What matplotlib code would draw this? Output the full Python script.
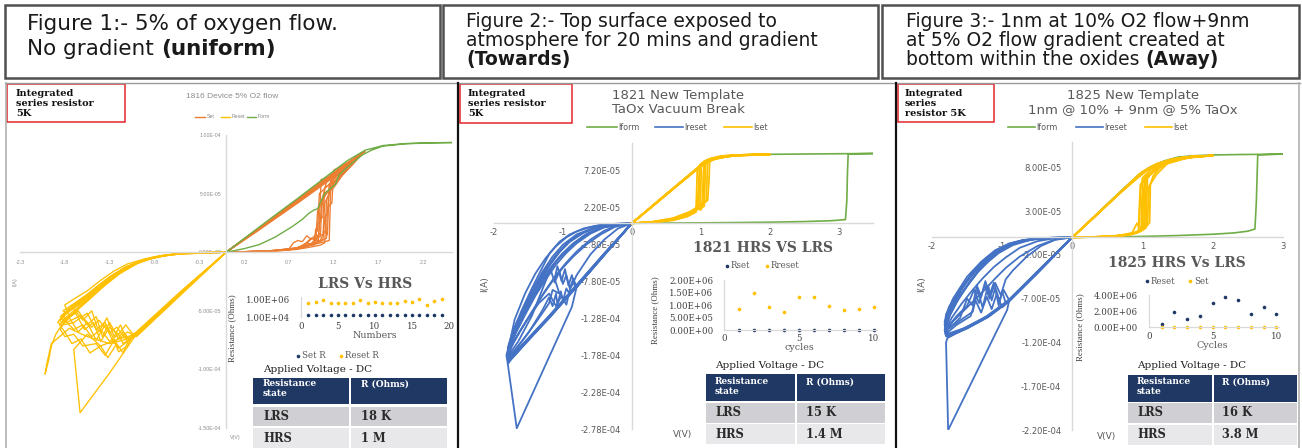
import matplotlib
matplotlib.use("Agg")
import numpy as np
import matplotlib.pyplot as plt
from matplotlib.patches import Rectangle
from matplotlib.ticker import FixedLocator, FuncFormatter

# ---------------------------------------------------------------------------
# I-V sweeps: each sweep is a list of (voltage [V], current [uA]) points
# ---------------------------------------------------------------------------

# Device 1816 (5% O2, uniform)
FORM_1816 = [(0, 0), (0.2, 3), (0.37, 6.5), (0.55, 13), (0.74, 22), (0.85, 28),
             (0.92, 33), (0.98, 36), (1.02, 37), (1.06, 44), (1.1, 50), (1.16, 54),
             (1.22, 58), (1.26, 66), (1.33, 71), (1.42, 77), (1.52, 83), (1.62, 87),
             (1.75, 90.5), (2.0, 92.5), (2.3, 93.3), (2.55, 93.6), (2.3, 93.4),
             (2.0, 92.7), (1.75, 91), (1.55, 87), (1.35, 78), (1.1, 63.5), (0.8, 46),
             (0.5, 29), (0.25, 14.5), (0, 0)]

SET_1816 = [
    [(0, 0), (0.3, 0.4), (0.6, 1.2), (0.8, 2.5), (0.95, 4.5), (1.05, 6), (1.1, 8),
     (1.12, 45), (1.2, 58), (1.3, 68), (1.4, 76), (1.5, 82), (1.45, 80), (1.2, 66),
     (0.9, 49), (0.6, 32), (0.3, 16), (0, 0)],
    [(0, 0), (0.3, 0.5), (0.6, 1.5), (0.8, 3), (0.9, 5), (1.0, 8), (1.02, 35),
     (1.1, 48), (1.25, 62), (1.4, 74), (1.5, 83), (1.3, 71), (1.0, 54), (0.7, 37),
     (0.35, 18), (0, 0)],
    [(0, 0), (0.4, 0.8), (0.7, 2.5), (0.75, 8), (0.8, 10), (0.85, 9), (0.9, 14),
     (0.95, 11), (1.0, 15), (1.05, 13), (1.07, 40), (1.12, 52), (1.2, 55), (1.3, 66),
     (1.45, 78), (1.52, 85), (1.2, 67), (0.9, 50), (0.5, 28), (0, 0)],
    [(0, 0), (0.5, 1), (0.8, 3.5), (1.0, 7), (1.15, 10), (1.17, 62), (1.25, 66),
     (1.35, 73), (1.5, 84), (1.3, 72), (0.95, 53), (0.5, 27.5), (0, 0)],
    [(0, 0), (0.4, 0.6), (0.7, 2), (0.85, 5), (0.95, 12), (1.0, 10), (1.03, 14),
     (1.05, 28), (1.08, 30), (1.1, 55), (1.2, 60), (1.35, 72), (1.48, 82), (1.2, 64),
     (0.8, 42), (0.4, 21), (0, 0)],
    [(0, 0), (0.5, 1.2), (0.8, 4), (0.9, 8), (0.98, 6), (1.0, 20), (1.02, 18),
     (1.04, 50), (1.15, 58), (1.3, 70), (1.45, 80), (1.55, 86), (1.3, 73), (1.0, 56),
     (0.6, 34), (0, 0)],
    [(0, 0), (0.45, 1), (0.75, 3), (0.9, 6), (1.05, 9), (1.12, 12), (1.13, 38),
     (1.18, 42), (1.2, 70), (1.3, 74), (1.45, 81), (1.2, 68), (0.9, 51), (0.5, 28),
     (0, 0)],
    [(0, 0), (0.5, 1), (0.8, 3), (0.95, 7), (1.0, 12), (1.03, 9), (1.06, 62),
     (1.15, 64), (1.3, 71), (1.5, 83), (1.1, 61), (0.6, 33), (0, 0)],
    [(0, 0), (0.4, 0.7), (0.7, 2.2), (0.85, 4), (0.92, 9), (0.96, 12), (1.0, 10),
     (1.04, 16), (1.08, 14), (1.1, 42), (1.14, 48), (1.18, 64), (1.3, 72), (1.47, 82),
     (1.25, 70), (0.85, 47), (0.45, 25), (0, 0)],
    [(0, 0), (0.5, 1.1), (0.8, 3.2), (0.95, 6), (1.05, 10), (1.1, 18), (1.13, 15),
     (1.15, 55), (1.25, 63), (1.4, 76), (1.52, 84), (1.35, 75), (1.0, 56), (0.5, 28),
     (0, 0)],
    [(0, 0), (0.4, 0.6), (0.7, 2), (0.9, 5), (0.98, 9), (1.02, 24), (1.05, 26),
     (1.07, 45), (1.12, 60), (1.25, 67), (1.4, 77), (1.5, 83), (1.2, 66), (0.8, 44),
     (0.4, 22), (0, 0)],
    [(0, 0), (0.5, 1), (0.85, 4), (1.0, 8), (1.08, 11), (1.1, 30), (1.13, 33),
     (1.15, 58), (1.22, 64), (1.38, 75), (1.5, 84), (1.25, 70), (0.9, 50), (0.45, 25),
     (0, 0)],
]

RESET_1816 = [
    [(0, 0), (-0.5, -35), (-1.0, -70), (-1.15, -78), (-1.2, -70), (-1.3, -76),
     (-1.4, -66), (-1.5, -72), (-1.6, -62), (-1.7, -66), (-1.8, -58), (-1.85, -55),
     (-1.75, -48), (-1.6, -40), (-1.45, -30), (-1.3, -21), (-1.15, -14), (-1.0, -8.5),
     (-0.8, -4), (-0.6, -1.6), (-0.3, -0.3), (0, 0)],
    [(0, 0), (-0.5, -34), (-1.05, -72), (-1.1, -80), (-1.2, -85), (-1.25, -75),
     (-1.35, -88), (-1.45, -78), (-1.6, -80), (-1.7, -70), (-1.8, -72), (-1.85, -66),
     (-1.8, -58), (-1.65, -48), (-1.5, -38), (-1.35, -28), (-1.2, -19), (-1.0, -10),
     (-0.8, -4.5), (-0.5, -1.2), (0, 0)],
    [(0, 0), (-0.5, -36), (-1.0, -72), (-1.1, -68), (-1.2, -74), (-1.3, -60),
     (-1.38, -72), (-1.45, -55), (-1.55, -62), (-1.65, -50), (-1.75, -55), (-1.8, -45),
     (-1.7, -40), (-1.55, -33), (-1.4, -24), (-1.25, -16), (-1.1, -10), (-0.9, -5.5),
     (-0.7, -2.5), (-0.4, -0.6), (0, 0)],
    [(0, 0), (-0.55, -38), (-1.1, -76), (-1.2, -82), (-1.28, -70), (-1.35, -60),
     (-1.45, -66), (-1.55, -52), (-1.7, -60), (-1.82, -62), (-1.88, -60), (-1.8, -52),
     (-1.6, -42), (-1.4, -29), (-1.2, -18), (-1.0, -9.5), (-0.75, -3.5), (-0.45, -0.8),
     (0, 0)],
    [(0, 0), (-0.5, -33), (-1.0, -68), (-1.12, -74), (-1.22, -64), (-1.3, -69),
     (-1.42, -58), (-1.5, -64), (-1.62, -54), (-1.78, -60), (-1.84, -57), (-1.75, -50),
     (-1.58, -42), (-1.42, -31), (-1.27, -22), (-1.1, -13), (-0.9, -6.5), (-0.6, -1.8),
     (0, 0)],
    [(0, 0), (-0.5, -35), (-1.0, -70), (-1.2, -74), (-1.4, -80), (-1.55, -70),
     (-1.7, -83), (-1.63, -137), (-1.3, -103), (-1.02, -72), (-0.5, -35), (0, 0)],
    [(0, 0), (-0.5, -35), (-1.05, -73), (-1.3, -78), (-1.55, -72), (-1.75, -65),
     (-1.95, -78), (-2.0, -95), (-2.02, -104), (-1.98, -92), (-1.95, -80), (-1.9, -70),
     (-1.85, -64), (-1.7, -52), (-1.55, -42), (-1.35, -28), (-1.15, -16), (-0.9, -6),
     (-0.6, -1.8), (0, 0)],
    [(0, 0), (-0.5, -35), (-1.0, -71), (-1.1, -76), (-1.18, -62), (-1.25, -72),
     (-1.33, -56), (-1.42, -68), (-1.5, -50), (-1.6, -58), (-1.7, -48), (-1.78, -52),
     (-1.82, -50), (-1.7, -44), (-1.55, -36), (-1.4, -27), (-1.25, -19), (-1.1, -12),
     (-0.9, -6.5), (-0.65, -2.5), (-0.35, -0.5), (0, 0)],
    [(0, 0), (-0.5, -34), (-1.0, -69), (-1.08, -74), (-1.15, -86), (-1.22, -78),
     (-1.32, -90), (-1.4, -80), (-1.52, -86), (-1.62, -74), (-1.72, -78), (-1.8, -68),
     (-1.86, -62), (-1.78, -55), (-1.62, -45), (-1.48, -35), (-1.32, -25), (-1.18, -17),
     (-1.0, -9.5), (-0.8, -4.2), (-0.5, -1), (0, 0)],
    [(0, 0), (-0.55, -37), (-1.08, -74), (-1.15, -68), (-1.25, -78), (-1.35, -62),
     (-1.45, -75), (-1.55, -60), (-1.65, -68), (-1.75, -56), (-1.82, -60), (-1.86, -58),
     (-1.76, -50), (-1.62, -42), (-1.46, -32), (-1.3, -22), (-1.12, -13), (-0.95, -7.5),
     (-0.7, -3), (-0.4, -0.6), (0, 0)],
    [(0, 0), (-0.5, -35), (-1.03, -71), (-1.12, -62), (-1.2, -70), (-1.3, -64),
     (-1.4, -76), (-1.48, -60), (-1.58, -66), (-1.68, -52), (-1.78, -57), (-1.83, -54),
     (-1.72, -46), (-1.58, -38), (-1.42, -28), (-1.28, -20), (-1.12, -12.5),
     (-0.92, -6.5), (-0.7, -2.8), (-0.45, -0.8), (0, 0)],
]

# Device 1821 (vacuum break, gradient towards)
FORM_1821 = [(0, 0), (0.5, 0.3), (1.0, 0.6), (1.5, 1), (2.0, 1.5), (2.5, 2.3),
             (2.9, 3.5), (3.1, 5), (3.12, 30), (3.13, 70), (3.14, 93.5), (3.3, 94),
             (3.5, 94.3), (3.3, 94.2), (3.0, 94), (2.5, 93.6), (2.0, 93.2), (1.6, 92.5),
             (1.3, 89.5), (1.1, 84), (1.0, 78), (0.7, 55), (0.4, 31), (0, 0)]

SET_1821 = [
    [(0, 0), (0.3, 1.5), (0.6, 5), (0.8, 11), (0.9, 17), (0.95, 22), (0.97, 50),
     (0.98, 78), (1.05, 84), (1.15, 88), (1.3, 91), (1.6, 92.5), (2.0, 93), (1.6, 92.5),
     (1.3, 90), (1.1, 84), (0.95, 75), (0.7, 55), (0.4, 31), (0, 0)],
    [(0, 0), (0.3, 1.8), (0.6, 6), (0.8, 13), (0.95, 20), (1.02, 26), (1.04, 60),
     (1.05, 82), (1.15, 87), (1.3, 90.5), (1.6, 92.3), (2.0, 93), (1.5, 92), (1.2, 87),
     (1.0, 77), (0.7, 54), (0.35, 27), (0, 0)],
    [(0, 0), (0.3, 1.2), (0.6, 4), (0.8, 9), (0.93, 15), (0.94, 40), (0.95, 74),
     (1.0, 80), (1.1, 85), (1.3, 90), (1.7, 92.5), (2.0, 93), (1.4, 91), (1.15, 86),
     (0.98, 76), (0.6, 47), (0.3, 23.5), (0, 0)],
    [(0, 0), (0.3, 2), (0.6, 7), (0.85, 16), (1.0, 25), (1.08, 30), (1.09, 55),
     (1.1, 84), (1.2, 88), (1.4, 91.5), (1.8, 92.8), (2.0, 93), (1.5, 92.2), (1.2, 88),
     (1.02, 79), (0.75, 59), (0.4, 32), (0, 0)],
    [(0, 0), (0.3, 1.6), (0.6, 5.5), (0.8, 12), (0.92, 18), (0.99, 24), (1.0, 45),
     (1.01, 79), (1.1, 85), (1.3, 90.5), (1.6, 92.4), (2.0, 93), (1.6, 92.4),
     (1.25, 88.5), (1.05, 81), (0.8, 62), (0.45, 35), (0, 0)],
    [(0, 0), (0.3, 1.3), (0.6, 4.5), (0.82, 10), (0.96, 19), (1.05, 23), (1.06, 50),
     (1.07, 83), (1.2, 88), (1.5, 92), (2.0, 93), (1.4, 91), (1.1, 84), (0.9, 70),
     (0.55, 43), (0, 0)],
    [(0, 0), (0.3, 1.4), (0.6, 4.8), (0.8, 10), (0.9, 15), (0.96, 20), (1.0, 18),
     (1.03, 24), (1.04, 68), (1.06, 83), (1.2, 88), (1.5, 92), (2.0, 93), (1.5, 92),
     (1.2, 87), (1.0, 77), (0.65, 50), (0.3, 23), (0, 0)],
    [(0, 0), (0.3, 1.7), (0.6, 5.8), (0.8, 12.5), (0.92, 19), (0.97, 23), (0.98, 60),
     (1.0, 80), (1.1, 86), (1.4, 91.5), (2.0, 93), (1.45, 91.5), (1.15, 86),
     (0.95, 74), (0.6, 47), (0.3, 23), (0, 0)],
    [(0, 0), (0.3, 1.9), (0.6, 6.5), (0.85, 15), (1.0, 24), (1.1, 31), (1.12, 58),
     (1.13, 85), (1.25, 89), (1.5, 92), (2.0, 93), (1.55, 92.2), (1.2, 87.5),
     (1.0, 78), (0.7, 55), (0.35, 27), (0, 0)],
]

RESET_1821 = [
    [(0, 0), (-0.4, -42), (-0.8, -85), (-1.2, -127), (-1.5, -157), (-1.72, -180),
     (-1.78, -186), (-1.8, -172), (-1.77, -160), (-1.7, -140), (-1.55, -110),
     (-1.4, -84), (-1.25, -62), (-1.1, -43), (-0.95, -28), (-0.8, -17), (-0.6, -8),
     (-0.4, -3), (-0.2, -0.8), (0, 0)],
    [(0, 0), (-0.4, -43), (-0.8, -86), (-1.2, -128), (-1.5, -158), (-1.75, -183),
     (-1.8, -190), (-1.82, -178), (-1.78, -165), (-1.7, -130), (-1.55, -95),
     (-1.4, -68), (-1.25, -47), (-1.1, -31), (-0.95, -19), (-0.8, -11), (-0.6, -5),
     (-0.4, -1.8), (-0.2, -0.4), (0, 0)],
    [(0, 0), (-0.45, -48), (-0.9, -96), (-0.95, -88), (-1.0, -105), (-1.03, -92),
     (-1.08, -110), (-1.1, -95), (-1.15, -112), (-1.2, -100), (-1.3, -118),
     (-1.5, -148), (-1.7, -172), (-1.78, -180), (-1.76, -165), (-1.65, -138),
     (-1.5, -112), (-1.3, -80), (-1.1, -52), (-0.9, -32), (-0.7, -17), (-0.45, -6),
     (0, 0)],
    [(0, 0), (-0.4, -42), (-0.8, -86), (-0.85, -75), (-0.9, -88), (-0.95, -70),
     (-1.0, -82), (-1.05, -65), (-1.12, -80), (-1.18, -62), (-1.25, -78),
     (-1.45, -125), (-1.65, -160), (-1.77, -176), (-1.75, -158), (-1.6, -128),
     (-1.45, -100), (-1.25, -70), (-1.05, -46), (-0.85, -28), (-0.6, -12),
     (-0.35, -3.5), (0, 0)],
    [(0, 0), (-0.4, -41), (-0.8, -83), (-1.2, -125), (-1.55, -160), (-1.74, -178),
     (-1.8, -184), (-1.78, -170), (-1.72, -155), (-1.6, -125), (-1.45, -92),
     (-1.3, -66), (-1.15, -45), (-1.0, -29), (-0.8, -15), (-0.55, -6), (-0.3, -1.5),
     (0, 0)],
    [(0, 0), (-0.4, -43), (-0.8, -86), (-1.2, -128), (-1.5, -158), (-1.76, -185),
     (-1.8, -190), (-1.67, -277), (-0.87, -113), (-0.8, -86), (-0.4, -42), (0, 0)],
    [(0, 0), (-0.4, -42), (-0.8, -85), (-1.2, -127), (-1.5, -157), (-1.73, -181),
     (-1.79, -170), (-1.72, -145), (-1.6, -118), (-1.45, -88), (-1.3, -60),
     (-1.19, -40), (-1.05, -25), (-0.9, -15), (-0.7, -7), (-0.45, -2), (0, 0)],
    [(0, 0), (-0.4, -42), (-0.8, -84), (-1.2, -126), (-1.5, -156), (-1.76, -182),
     (-1.8, -176), (-1.75, -160), (-1.65, -135), (-1.5, -108), (-1.35, -82),
     (-1.2, -58), (-1.05, -39), (-0.9, -25), (-0.7, -13), (-0.5, -5.5), (-0.25, -1.2),
     (0, 0)],
    [(0, 0), (-0.4, -43), (-0.82, -88), (-0.87, -70), (-0.92, -84), (-0.97, -62),
     (-1.02, -78), (-1.08, -58), (-1.12, -75), (-1.05, -95), (-1.15, -90),
     (-1.2, -108), (-1.4, -135), (-1.6, -160), (-1.76, -178), (-1.78, -168),
     (-1.7, -148), (-1.55, -115), (-1.4, -88), (-1.25, -64), (-1.1, -44),
     (-0.95, -28), (-0.75, -14), (-0.5, -5), (0, 0)],
    [(0, 0), (-0.4, -41), (-0.8, -84), (-1.2, -126), (-1.52, -158), (-1.74, -180),
     (-1.79, -186), (-1.8, -168), (-1.74, -150), (-1.62, -128), (-1.48, -104),
     (-1.32, -80), (-1.18, -60), (-1.02, -42), (-0.85, -27), (-0.65, -14),
     (-0.4, -4.5), (0, 0)],
    [(0, 0), (-0.4, -42), (-0.8, -85), (-1.2, -127), (-1.5, -157), (-1.75, -182),
     (-1.78, -172), (-1.7, -158), (-1.55, -135), (-1.4, -112), (-1.25, -90),
     (-1.1, -70), (-0.95, -53), (-0.8, -38), (-0.6, -22), (-0.4, -10), (-0.2, -2.5),
     (0, 0)],
    [(0, 0), (-0.4, -42), (-0.8, -85), (-1.2, -127), (-1.55, -162), (-1.77, -184),
     (-1.79, -176), (-1.72, -162), (-1.6, -142), (-1.45, -120), (-1.3, -98),
     (-1.15, -78), (-1.0, -60), (-0.85, -45), (-0.65, -28), (-0.45, -15), (-0.25, -5),
     (0, 0)],
    [(0, 0), (-0.4, -41), (-0.8, -84), (-1.2, -126), (-1.5, -157), (-1.74, -180),
     (-1.77, -168), (-1.68, -148), (-1.55, -124), (-1.4, -98), (-1.25, -76),
     (-1.1, -56), (-0.95, -40), (-0.8, -27), (-0.6, -14), (-0.4, -5.5), (0, 0)],
    [(0, 0), (-0.4, -42), (-0.8, -85), (-1.2, -127), (-1.5, -157), (-1.76, -184),
     (-1.78, -172), (-1.65, -150), (-1.5, -128), (-1.35, -108), (-1.2, -95),
     (-1.1, -112), (-1.02, -98), (-0.95, -110), (-0.9, -90), (-0.8, -70), (-0.6, -42),
     (-0.4, -22), (-0.2, -7), (0, 0)],
]

# Device 1825 (1 nm @ 10% + 9 nm @ 5%, gradient away)
FORM_1825 = [(0, 0), (0.5, 0.4), (1.0, 1), (1.5, 2), (2.0, 3.5), (2.3, 5), (2.5, 7),
             (2.6, 9.5), (2.62, 40), (2.64, 94), (2.8, 94.5), (3.0, 95), (2.8, 94.8),
             (2.4, 94.5), (2.0, 94), (1.7, 93), (1.5, 91.5), (1.3, 87), (1.1, 80),
             (0.95, 72), (0.6, 46), (0.3, 23), (0, 0)]

SET_1825 = [
    [(0, 0), (0.3, 0.3), (0.6, 1), (0.8, 2.5), (0.92, 5), (0.98, 8), (0.99, 40),
     (1.0, 62), (1.1, 72), (1.2, 80), (1.4, 88), (1.7, 92), (2.0, 93.3), (1.7, 92.5),
     (1.4, 89), (1.2, 84), (1.0, 75), (0.7, 53), (0.35, 26), (0, 0)],
    [(0, 0), (0.3, 0.4), (0.6, 1.5), (0.85, 4), (0.95, 8), (1.03, 12), (1.04, 45),
     (1.05, 66), (1.15, 76), (1.3, 85), (1.6, 91), (2.0, 93.3), (1.5, 90), (1.25, 85),
     (1.05, 77), (0.8, 60), (0.4, 30), (0, 0)],
    [(0, 0), (0.35, 0.5), (0.65, 1.8), (0.85, 5), (0.92, 16), (0.95, 12), (0.97, 55),
     (1.0, 68), (1.1, 76), (1.3, 86), (1.6, 91.5), (2.0, 93.3), (1.45, 89.5),
     (1.15, 82), (0.95, 72), (0.6, 45), (0, 0)],
    [(0, 0), (0.4, 0.6), (0.7, 2), (0.9, 5.5), (1.0, 9), (1.07, 14), (1.08, 38),
     (1.09, 58), (1.2, 72), (1.35, 84), (1.7, 92), (2.0, 93.3), (1.6, 91.5), (1.3, 86),
     (1.1, 79), (0.85, 63), (0.45, 34), (0, 0)],
    [(0, 0), (0.3, 0.3), (0.6, 1.2), (0.8, 3), (0.95, 6.5), (1.0, 10), (1.01, 50),
     (1.03, 64), (1.15, 75), (1.35, 86), (1.65, 91.8), (2.0, 93.3), (1.5, 90.5),
     (1.2, 83), (1.0, 74), (0.65, 49), (0.3, 22), (0, 0)],
    [(0, 0), (0.4, 0.5), (0.7, 1.8), (0.88, 4.5), (0.98, 7), (1.05, 11), (1.06, 48),
     (1.07, 69), (1.2, 77), (1.4, 87), (1.8, 92.5), (2.0, 93.3), (1.55, 91),
     (1.25, 84.5), (1.02, 75), (0.7, 52), (0.35, 26), (0, 0)],
    [(0, 0), (0.35, 0.4), (0.65, 1.4), (0.85, 3.5), (0.95, 7), (1.0, 15), (1.02, 10),
     (1.03, 56), (1.05, 67), (1.15, 76), (1.35, 86.5), (1.7, 92), (2.0, 93.3),
     (1.6, 91.3), (1.3, 85.5), (1.08, 78), (0.8, 60), (0.4, 30), (0, 0)],
    [(0, 0), (0.3, 0.3), (0.6, 1.1), (0.82, 3), (0.94, 6), (0.96, 46), (0.97, 60),
     (1.05, 70), (1.2, 79), (1.4, 87.5), (1.75, 92.3), (2.0, 93.3), (1.6, 91.5),
     (1.3, 86), (1.05, 76), (0.7, 52), (0.35, 26), (0, 0)],
    [(0, 0), (0.4, 0.6), (0.7, 2.1), (0.9, 5), (1.0, 8.5), (1.06, 13), (1.1, 17),
     (1.11, 60), (1.15, 70), (1.25, 80), (1.45, 88.5), (1.8, 92.5), (2.0, 93.3),
     (1.5, 90.5), (1.2, 83.5), (1.0, 74), (0.6, 45), (0, 0)],
]

RESET_1825 = [
    [(0, 0), (-0.5, -40), (-0.9, -72), (-1.2, -90), (-1.5, -103), (-1.75, -112),
     (-1.8, -108), (-1.78, -95), (-1.7, -78), (-1.55, -55), (-1.4, -38), (-1.25, -25),
     (-1.1, -15), (-0.9, -7.5), (-0.7, -3.3), (-0.45, -1), (0, 0)],
    [(0, 0), (-0.5, -41), (-0.9, -73), (-1.2, -91), (-1.5, -104), (-1.78, -114),
     (-1.82, -100), (-1.8, -88), (-1.7, -70), (-1.5, -45), (-1.3, -28), (-1.1, -15),
     (-0.9, -7), (-0.7, -3), (-0.4, -0.7), (0, 0)],
    [(0, 0), (-0.5, -40), (-0.95, -75), (-1.0, -62), (-1.05, -78), (-1.1, -58),
     (-1.15, -72), (-1.2, -55), (-1.28, -80), (-1.35, -60), (-1.42, -85), (-1.6, -95),
     (-1.78, -105), (-1.8, -98), (-1.76, -86), (-1.65, -68), (-1.5, -50), (-1.35, -35),
     (-1.2, -23), (-1.0, -12), (-0.8, -5.5), (-0.55, -1.8), (0, 0)],
    [(0, 0), (-0.5, -41), (-0.92, -74), (-1.0, -80), (-1.08, -65), (-1.15, -82),
     (-1.22, -68), (-1.3, -86), (-1.38, -72), (-1.45, -90), (-1.65, -100),
     (-1.8, -110), (-1.82, -96), (-1.72, -78), (-1.58, -58), (-1.42, -40),
     (-1.25, -26), (-1.05, -14), (-0.85, -6.5), (-0.6, -2.2), (0, 0)],
    [(0, 0), (-0.5, -39), (-0.9, -71), (-1.25, -92), (-1.55, -104), (-1.77, -110),
     (-1.8, -92), (-1.76, -80), (-1.62, -62), (-1.45, -44), (-1.3, -31), (-1.12, -19),
     (-0.95, -10), (-0.75, -4.3), (-0.5, -1.2), (0, 0)],
    [(0, 0), (-0.5, -40), (-0.9, -72), (-1.2, -90), (-1.5, -103), (-1.78, -115),
     (-1.8, -120), (-1.77, -220), (-0.93, -83), (-0.9, -72), (-0.5, -40), (0, 0)],
    [(0, 0), (-0.5, -40), (-0.9, -72), (-1.2, -90), (-1.5, -103), (-1.76, -113),
     (-1.8, -104), (-1.75, -90), (-1.65, -74), (-1.5, -56), (-1.35, -40), (-1.2, -28),
     (-1.05, -18), (-0.85, -9), (-0.6, -3), (-0.3, -0.5), (0, 0)],
    [(0, 0), (-0.5, -40), (-0.9, -72), (-1.22, -90), (-1.52, -103), (-1.8, -113),
     (-1.82, -106), (-1.8, -96), (-1.72, -82), (-1.6, -66), (-1.45, -50), (-1.3, -35),
     (-1.15, -23), (-0.98, -13), (-0.78, -6), (-0.5, -1.6), (0, 0)],
    [(0, 0), (-0.5, -40), (-0.9, -72), (-0.98, -60), (-1.04, -72), (-1.12, -52),
     (-1.18, -66), (-1.24, -50), (-1.3, -68), (-1.36, -55), (-1.42, -78), (-1.5, -70),
     (-1.6, -92), (-1.75, -104), (-1.8, -100), (-1.74, -82), (-1.6, -62), (-1.45, -45),
     (-1.3, -31), (-1.12, -18), (-0.92, -9), (-0.7, -3.5), (-0.45, -1), (0, 0)],
    [(0, 0), (-0.5, -41), (-0.9, -73), (-1.2, -91), (-1.5, -104), (-1.77, -113),
     (-1.81, -110), (-1.8, -100), (-1.74, -88), (-1.62, -70), (-1.46, -50), (-1.3, -33),
     (-1.13, -21), (-0.95, -11.5), (-0.75, -5), (-0.5, -1.5), (0, 0)],
    [(0, 0), (-0.5, -40), (-0.9, -72), (-1.2, -90), (-1.5, -103), (-1.77, -113),
     (-1.79, -106), (-1.7, -96), (-1.55, -84), (-1.4, -72), (-1.25, -60), (-1.1, -47),
     (-0.95, -35), (-0.75, -22), (-0.5, -10), (-0.25, -2.5), (0, 0)],
    [(0, 0), (-0.5, -40), (-0.9, -72), (-1.2, -90), (-1.5, -103), (-1.78, -113),
     (-1.8, -105), (-1.72, -92), (-1.58, -76), (-1.42, -60), (-1.28, -47), (-1.12, -34),
     (-0.95, -23), (-0.75, -12), (-0.5, -4.5), (-0.25, -1), (0, 0)],
    [(0, 0), (-0.5, -40), (-0.9, -72), (-1.2, -90), (-1.5, -103), (-1.77, -112),
     (-1.79, -104), (-1.65, -90), (-1.5, -78), (-1.4, -60), (-1.33, -75), (-1.25, -55),
     (-1.18, -70), (-1.1, -52), (-1.02, -66), (-0.95, -48), (-0.85, -38), (-0.65, -22),
     (-0.45, -10), (-0.25, -3), (0, 0)],
]

# ---------------------------------------------------------------------------
# Resistance per cycle [ohm]
# ---------------------------------------------------------------------------
CYCLES_1816 = list(range(1, 20))
RSET_1816 = [18000] * 19
RRESET_1816 = [4.1e5, 6.4e5, 1.0e6, 4.9e5, 4.9e5, 4.9e5, 4.9e5, 1.0e6, 4.9e5, 6.4e5,
               4.9e5, 4.9e5, 4.9e5, 7.7e5, 6.4e5, 1.2e6, 2.6e5, 7.7e5, 1.2e6]

CYCLES_1821 = list(range(1, 11))
RSET_1821 = [15000] * 10
RRESET_1821 = [8.3e5, 1.49e6, 9.3e5, 7.2e5, 1.33e6, 1.31e6, 9.7e5, 8.0e5, 8.3e5, 9.3e5]

CYCLES_1825 = list(range(1, 11))
RRESET_1825 = [3.7e5, 1.86e6, 9.9e5, 1.4e6, 2.97e6, 3.75e6, 3.42e6, 1.65e6, 2.56e6, 1.65e6]
RSET_1825 = [16000] * 10

# Summary tables (state, resistance)
TABLE_1816 = [("LRS", "18 K"), ("HRS", "1 M")]
TABLE_1821 = [("LRS", "15 K"), ("HRS", "1.4 M")]
TABLE_1825 = [("LRS", "16 K"), ("HRS", "3.8 M")]

# Axis ticks
XTICKS_1816 = [-2.3, -1.8, -1.3, -0.8, -0.3, 0.2, 0.7, 1.2, 1.7, 2.2]
YTICKS_1816 = [1.0e-4, 5.0e-5, 0.0, -5.0e-5, -1.0e-4, -1.5e-4]
XTICKS_1821 = [-2, -1, 0, 1, 2, 3]
YTICKS_1821 = [7.2e-5, 2.2e-5, -2.8e-5, -7.8e-5, -1.28e-4, -1.78e-4, -2.28e-4, -2.78e-4]
XTICKS_1825 = [-2, -1, 0, 1, 2, 3]
YTICKS_1825 = [8.0e-5, 3.0e-5, -2.0e-5, -7.0e-5, -1.2e-4, -1.7e-4, -2.2e-4]

# ---------------------------------------------------------------------------
ORANGE = "#ED7D31"
YELLOW = "#FFC000"
GREEN = "#70AD47"
BLUE = "#4472C4"
NAVY = "#203864"
AXGRAY = "#D9D9D9"
TXGRAY = "#595959"
RED = "#E3262B"

W, H = 1302, 448
fig = plt.figure(figsize=(W / 100, H / 100), dpi=100)
fig.patch.set_facecolor("white")


def px_axes(x0, y0, x1, y1, z=1):
    """Axes placed by pixel box (y measured from the top)."""
    ax = fig.add_axes([x0 / W, 1 - y1 / H, (x1 - x0) / W, (y1 - y0) / H], zorder=z)
    ax.patch.set_alpha(0)
    return ax


sci = FuncFormatter(lambda v, p: f"{v:.2E}")


def iv_axes(box, xlim, ylim, xticks, yticks, fs, family, color, xpad, ypad, xfmt):
    ax = px_axes(*box)
    ax.set_xlim(*xlim)
    ax.set_ylim(*ylim)
    for s in ("top", "right"):
        ax.spines[s].set_visible(False)
    for s in ("left", "bottom"):
        ax.spines[s].set_position(("data", 0))
        ax.spines[s].set_color(AXGRAY)
        ax.spines[s].set_linewidth(1.0)
    ax.xaxis.set_major_locator(FixedLocator(xticks))
    ax.yaxis.set_major_locator(FixedLocator(yticks))
    ax.xaxis.set_major_formatter(xfmt)
    ax.yaxis.set_major_formatter(sci)
    ax.tick_params(length=0, labelsize=fs, labelcolor=color)
    ax.tick_params(axis="x", pad=xpad)
    ax.tick_params(axis="y", pad=ypad)
    for lab in ax.get_xticklabels() + ax.get_yticklabels():
        lab.set_family(family)
    return ax


def sweeps(ax, curves, color, lw):
    for c in curves:
        v, i = zip(*c)
        ax.plot(v, np.asarray(i) * 1e-6, color=color, lw=lw, solid_joinstyle="round")


def r_axes(box, xlim, ylim, xticks, yticks, log, xpad, ypad, bottom=True):
    ax = px_axes(*box)
    if log:
        ax.set_yscale("log")
    ax.set_xlim(*xlim)
    ax.set_ylim(*ylim)
    for s in ("top", "right"):
        ax.spines[s].set_visible(False)
    ax.spines["bottom"].set_visible(bottom)
    for s in ("left", "bottom"):
        ax.spines[s].set_color(AXGRAY)
        ax.spines[s].set_linewidth(0.9)
    ax.xaxis.set_major_locator(FixedLocator(xticks))
    ax.yaxis.set_major_locator(FixedLocator(yticks))
    ax.yaxis.set_minor_locator(FixedLocator([]))
    ax.xaxis.set_major_formatter(FuncFormatter(lambda v, p: f"{v:g}"))
    ax.yaxis.set_major_formatter(sci)
    ax.tick_params(length=0, labelsize=6.2, labelcolor="#404040")
    ax.tick_params(axis="x", pad=xpad)
    ax.tick_params(axis="y", pad=ypad)
    for lab in ax.get_xticklabels() + ax.get_yticklabels():
        lab.set_family("DejaVu Serif")
    return ax


# ---------------- overlay in pixel coordinates ----------------
ov = fig.add_axes([0, 0, 1, 1], zorder=10)
ov.set_xlim(0, W)
ov.set_ylim(H, 0)
ov.axis("off")
ov.patch.set_alpha(0)

# header boxes
for x0, x1 in ((5, 440), (443, 878), (882, 1299)):
    ov.add_patch(Rectangle((x0, 5), x1 - x0, 73, fill=False, ec="#505050", lw=1.8))

hdr = dict(family="DejaVu Sans", color="#1a1a1a", va="baseline", ha="left")
ov.text(27, 30, "Figure 1:- 5% of oxygen flow.", fontsize=15.5, **hdr)
t = ov.text(27, 55, "No gradient", fontsize=15.5, **hdr)
ov.annotate("(uniform)", xy=(1, 0), xycoords=t, xytext=(5, 0), textcoords="offset points",
            ha="left", va="bottom", fontsize=15.5, fontweight="bold", family="DejaVu Sans",
            color="#1a1a1a")

ov.text(466, 27, "Figure 2:- Top surface exposed to", fontsize=13.5, **hdr)
ov.text(466, 46, "atmosphere for 20 mins and gradient", fontsize=13.5, **hdr)
ov.text(466, 65, "(Towards)", fontsize=13.5, fontweight="bold", **hdr)

ov.text(906, 27, "Figure 3:- 1nm at 10% O2 flow+9nm", fontsize=13.5, **hdr)
ov.text(906, 46, "at 5% O2 flow gradient created at", fontsize=13.5, **hdr)
t3 = ov.text(906, 65, "bottom within the oxides", fontsize=13.5, **hdr)
ov.annotate("(Away)", xy=(1, 0), xycoords=t3, xytext=(4, 0), textcoords="offset points",
            ha="left", va="bottom", fontsize=13.5, fontweight="bold", family="DejaVu Sans",
            color="#1a1a1a")

# panel frames
ov.plot([5, 1300], [83, 83], color="#9a9a9a", lw=1.0)
ov.plot([6, 6], [83, 448], color="#b0b0b0", lw=1.2)
ov.plot([458, 458], [83, 448], color="#111111", lw=1.6)
ov.plot([896, 896], [83, 448], color="#111111", lw=1.6)
ov.plot([1299, 1299], [83, 448], color="#b0b0b0", lw=1.2)

# red "series resistor" notes
notes = [((7, 84, 125, 122), 16, ["Integrated", "series resistor", "5K"]),
         ((460, 84, 572, 123), 468, ["Integrated", "series resistor", "5K"]),
         ((898, 84, 994, 122), 905, ["Integrated", "series", "resistor 5K"])]
for (x0, y0, x1, y1), tx, lines in notes:
    ov.add_patch(Rectangle((x0, y0), x1 - x0, y1 - y0, fc="white", ec=RED, lw=1.1))
    for k, s in enumerate(lines):
        ov.text(tx, 93 + 10.5 * k, s, family="DejaVu Serif", fontweight="bold",
                fontsize=7, color="#111111", va="center", ha="left")

# ---------------- panel 1: 1816 ----------------
ax1 = iv_axes((20, 135, 452, 428), (-2.3, 2.52), (-1.5e-4, 1.0e-4), XTICKS_1816,
              YTICKS_1816, 3.8, "Liberation Sans", "#8c8c8c", 5.5, 3.4,
              FuncFormatter(lambda v, p: f"{v:g}"))
sweeps(ax1, SET_1816, ORANGE, 0.95)
sweeps(ax1, RESET_1816, YELLOW, 0.95)
sweeps(ax1, [FORM_1816], GREEN, 1.0)

ov.text(232, 96, "1816 Device 5% O2 flow", family="Liberation Sans", fontsize=6,
        color="#8c8c8c", ha="center", va="center")
for (xa, xb), col, lab in (((195, 205), ORANGE, "Set"), ((221, 230), YELLOW, "Reset"),
                           ((247, 256), GREEN, "Form")):
    ov.plot([xa, xb], [117, 117], color=col, lw=1.0)
    ov.text(xb + 1.5, 117, lab, family="Liberation Sans", fontsize=3.8, color="#8c8c8c",
            va="center", ha="left")
ov.text(15, 282, "I(A)", family="Liberation Sans", fontsize=3.8, color="#8c8c8c",
        rotation=90, ha="center", va="center")
ov.text(235, 437, "V(V)", family="Liberation Sans", fontsize=3.8, color="#8c8c8c",
        ha="center", va="center")

ri1 = r_axes((301, 297, 449, 317.3), (0, 20), (1e4, 2.2e6), [0, 5, 10, 15, 20],
             [1e4, 1e6], True, 3.2, 8.0, bottom=False)
ri1.plot(CYCLES_1816, RRESET_1816, "o", color=YELLOW, ms=2.6, mew=0, clip_on=False)
ri1.plot(CYCLES_1816, RSET_1816, "o", color=NAVY, ms=2.6, mew=0, clip_on=False)
ov.text(365, 284, "LRS Vs HRS", family="DejaVu Serif", fontweight="bold", fontsize=10,
        color=TXGRAY, ha="center", va="center")
ov.text(375, 336, "Numbers", family="DejaVu Serif", fontsize=6.8, color=TXGRAY,
        ha="center", va="center")
ov.text(232, 328, "Resistance (Ohms)", family="Liberation Serif", fontsize=6.4,
        color="#404040", rotation=90, ha="center", va="center")

# ---------------- panel 2: 1821 ----------------
ax2 = iv_axes((494, 143, 873, 429), (-2, 3.5), (-2.78e-4, 1.085e-4), XTICKS_1821,
              YTICKS_1821, 6, "DejaVu Sans", TXGRAY, 3.6, 8.0,
              FuncFormatter(lambda v, p: f"{v:g}"))
sweeps(ax2, [FORM_1821], GREEN, 1.2)
sweeps(ax2, RESET_1821, BLUE, 1.3)
sweeps(ax2, SET_1821, YELLOW, 1.3)

ov.text(678, 96, "1821 New Template", family="DejaVu Sans", fontsize=9.5, color=TXGRAY,
        ha="center", va="center")
ov.text(678, 109.5, "TaOx Vacuum Break", family="DejaVu Sans", fontsize=9.5,
        color=TXGRAY, ha="center", va="center")

ri2 = r_axes((724, 280, 877, 330), (0, 10.2), (0, 2.0e6), [0, 5, 10],
             [0, 5e5, 1e6, 1.5e6, 2e6], False, 3.0, 7.8)
ri2.plot(CYCLES_1821, RSET_1821, "o", color=NAVY, ms=2.6, mew=0, clip_on=False)
ri2.plot(CYCLES_1821, RRESET_1821, "o", color=YELLOW, ms=2.6, mew=0, clip_on=False)
ov.text(763, 248, "1821 HRS VS LRS", family="DejaVu Serif", fontweight="bold",
        fontsize=10, color=TXGRAY, ha="center", va="center")
ov.text(799, 348, "cycles", family="DejaVu Serif", fontsize=6.8, color=TXGRAY,
        ha="center", va="center")
ov.text(655, 310, "Resistance (Ohms)", family="Liberation Serif", fontsize=6.4,
        color="#404040", rotation=90, ha="center", va="center")

# ---------------- panel 3: 1825 ----------------
ax3 = iv_axes((932, 142, 1283, 430), (-2, 3), (-2.2e-4, 1.088e-4), XTICKS_1825,
              YTICKS_1825, 6, "DejaVu Sans", TXGRAY, 3.6, 8.0,
              FuncFormatter(lambda v, p: f"{v:g}"))
sweeps(ax3, [FORM_1825], GREEN, 1.2)
sweeps(ax3, RESET_1825, BLUE, 1.3)
sweeps(ax3, SET_1825, YELLOW, 1.3)

ov.text(1133, 96, "1825 New Template", family="DejaVu Sans", fontsize=9.5,
        color=TXGRAY, ha="center", va="center")
ov.text(1133, 110, "1nm @ 10% + 9nm @ 5% TaOx", family="DejaVu Sans", fontsize=9.5,
        color=TXGRAY, ha="center", va="center")

ri3 = r_axes((1149, 295, 1279, 327), (0, 10.2), (0, 4.0e6), [0, 5, 10],
             [0, 2e6, 4e6], False, 3.6, 8.0)
ri3.plot(CYCLES_1825, RRESET_1825, "o", color=NAVY, ms=2.6, mew=0, clip_on=False)
ri3.plot(CYCLES_1825, RSET_1825, "o", color=YELLOW, ms=2.6, mew=0, clip_on=False)
ov.text(1177, 263, "1825 HRS Vs LRS", family="DejaVu Serif", fontweight="bold",
        fontsize=10, color=TXGRAY, ha="center", va="center")
ov.text(1212, 346, "Cycles", family="DejaVu Serif", fontsize=6.8, color=TXGRAY,
        ha="center", va="center")
ov.text(1080, 327, "Resistance (Ohms)", family="Liberation Serif", fontsize=6.4,
        color="#404040", rotation=90, ha="center", va="center")

# I-V legends and axis names for panels 2 and 3
for items, ylab_x, vv in (([(587, 617, GREEN, "Iform"), (655, 683, BLUE, "Ireset"),
                            (724, 752, YELLOW, "Iset")], (485, 284), (683, 435)),
                          ([(1008, 1035, GREEN, "Iform"), (1076, 1103, BLUE, "Ireset"),
                            (1145, 1172, YELLOW, "Iset")], (922, 284), (1107, 436))):
    for xa, xb, col, lab in items:
        ov.plot([xa, xb], [127, 127], color=col, lw=1.2)
        ov.text(xb + 1.5, 127, lab, family="DejaVu Sans", fontsize=5.8, color=TXGRAY,
                va="center", ha="left")
    ov.text(*ylab_x, "I(A)", family="DejaVu Sans", fontsize=6.5, color=TXGRAY,
            rotation=90, ha="center", va="center")
    ov.text(*vv, "V(V)", family="DejaVu Sans", fontsize=6.5, color=TXGRAY,
            ha="center", va="center")

# resistance-plot legends (marker + label)
for entries, y in (([(298, NAVY, "Set R"), (341, YELLOW, "Reset R")], 356),
                   ([(727, NAVY, "Rset"), (767, YELLOW, "Rreset")], 266),
                   ([(1147, NAVY, "Reset"), (1190, YELLOW, "Set")], 281)):
    for x, col, lab in entries:
        ov.plot([x], [y], "o", color=col, ms=2.6, mew=0)
        ov.text(x + 4, y, lab, family="DejaVu Serif", fontsize=6.2, color=TXGRAY,
                va="center", ha="left")


# ---------------- summary tables ----------------
def table(rows, x0, xs, x1, head, r1, r2, tx1, tx2, head_ty, title_y):
    ov.text(tx1, title_y, "Applied Voltage - DC", family="DejaVu Serif", fontsize=7.5,
            color="#1a1a1a", ha="left", va="center")
    ov.add_patch(Rectangle((x0, head[0]), xs - x0, head[1] - head[0], fc="#1F3864", ec="none"))
    ov.add_patch(Rectangle((xs + 1.5, head[0]), x1 - xs - 1.5, head[1] - head[0],
                           fc="#1F3864", ec="none"))
    for (ya, yb), fc in ((r1, "#CFCFD4"), (r2, "#E8E8EB")):
        ov.add_patch(Rectangle((x0, ya), xs - x0, yb - ya, fc=fc, ec="none"))
        ov.add_patch(Rectangle((xs + 1.5, ya), x1 - xs - 1.5, yb - ya, fc=fc, ec="none"))
    hd = dict(family="DejaVu Serif", fontweight="bold", fontsize=6.5, color="white",
              ha="left", va="center")
    ov.text(tx1, head_ty[0], "Resistance", **hd)
    ov.text(tx1, head_ty[1], "state", **hd)
    ov.text(tx2, head_ty[0], "R (Ohms)", **hd)
    cell = dict(family="DejaVu Serif", fontweight="bold", fontsize=8.3, color="#2a2a2a",
                ha="left", va="center")
    for (state, val), (ya, yb) in zip(rows, (r1, r2)):
        yc = (ya + yb) / 2
        ov.text(tx1, yc, state, **cell)
        ov.text(tx2, yc, val, **cell)


table(TABLE_1816, 253, 349, 447, (378, 404), (407, 426), (428, 449), 263, 361,
      (384, 393), 370)
table(TABLE_1821, 706, 795, 885, (374, 401), (403, 423), (424, 444), 715, 806,
      (382, 391), 365)
table(TABLE_1825, 1128, 1212, 1297, (375, 402), (403, 423), (425, 445), 1137, 1222,
      (382, 392), 365)

fig.savefig("out.png", dpi=100, facecolor="white")
